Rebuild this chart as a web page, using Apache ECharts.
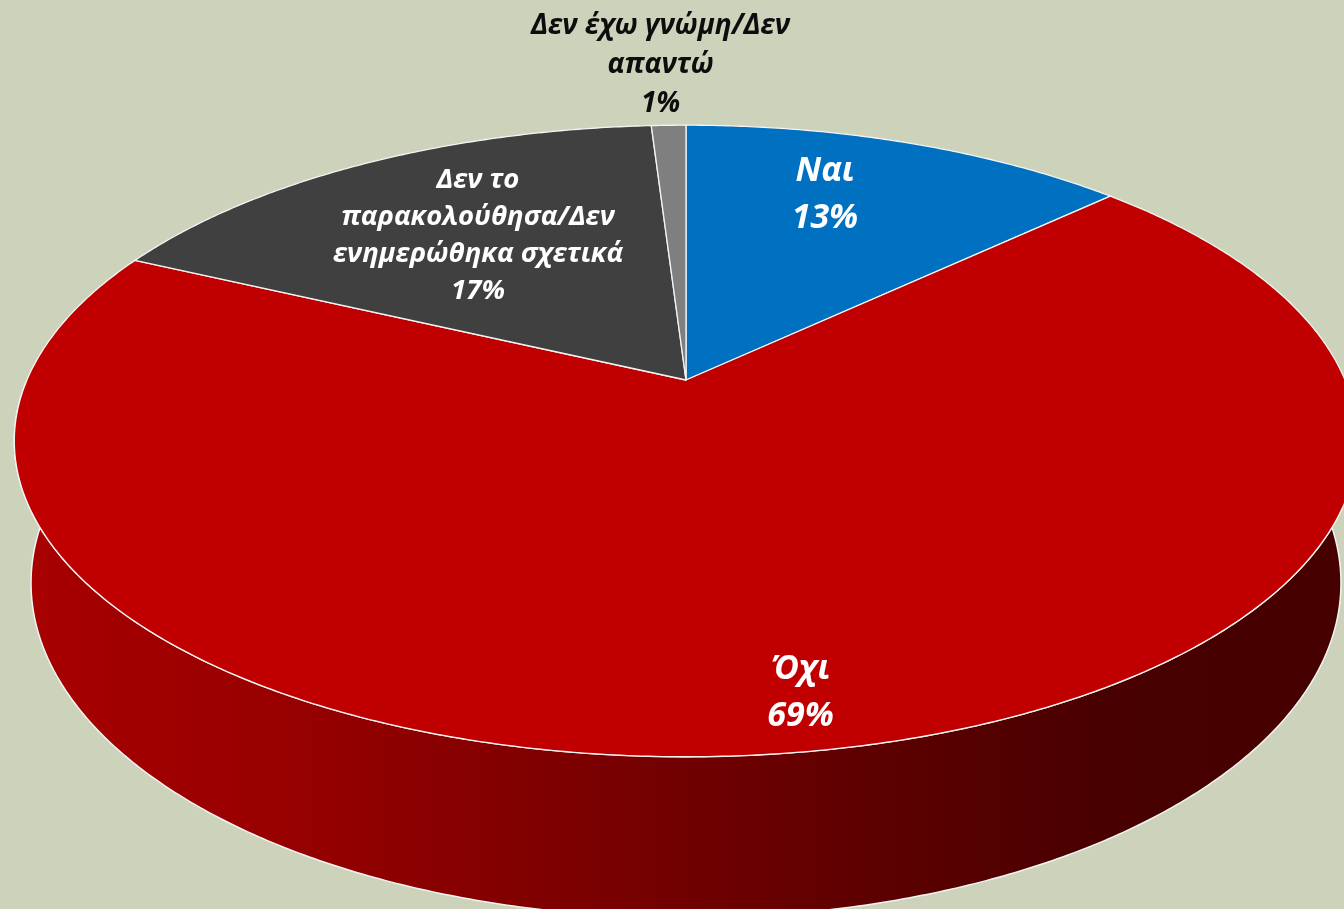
<!DOCTYPE html>
<html>
<head>
<meta charset="utf-8">
<script src="https://cdn.jsdelivr.net/npm/echarts@6/dist/echarts.min.js"></script>
<style>
html, body { margin: 0; padding: 0; background: #cdd3bb; }
#main { width: 1344px; height: 909px; }
</style>
</head>
<body>
<div id="main"></div>
<script>
var categories = ['Ναι', 'Όχι', 'Δεν το\nπαρακολούθησα/Δεν\nενημερώθηκα σχετικά', 'Δεν έχω γνώμη/Δεν\nαπαντώ'];
var values = [13, 69, 17, 1];
var colors = ['#0070c0', '#c00000', '#404040', '#7f7f7f'];

// 3d pie look: perspective camera, numbers in pie radii
var cx = 686, cy = 380;
var camDist = 4.596;
var focal = 3029;
var tilt = 27.47 * Math.PI / 180;
var thickness = 0.245;
var sinT = Math.sin(tilt), cosT = Math.cos(tilt);

var total = values.reduce(function (a, b) { return a + b; }, 0);
var startAngles = [];
var acc = 0;
values.forEach(function (v) {
    startAngles.push(acc / total * Math.PI * 2);
    acc += v;
});

function project(r, theta, z) {
    var X = r * Math.sin(theta), Y = r * Math.cos(theta);
    var w = camDist + Y * cosT - z * sinT;
    return [cx + focal * X / w, cy - focal * (Y * sinT + z * cosT) / w];
}

function arcPoints(a0, a1, z) {
    var pts = [];
    var n = Math.max(2, Math.ceil((a1 - a0) * 120));
    for (var i = 0; i <= n; i++) {
        pts.push(project(1, a0 + (a1 - a0) * i / n, z));
    }
    return pts;
}

// side wall colour goes dark to the right
var wallFill = new echarts.graphic.LinearGradient(14, 0, 1358, 0, [
    { offset: 0, color: '#a80000' },
    { offset: 0.2, color: '#980000' },
    { offset: 0.45, color: '#780000' },
    { offset: 0.65, color: '#5c0000' },
    { offset: 0.82, color: '#480000' },
    { offset: 1, color: '#460000' }
], true);

// where the inner labels sit: [radius fraction, turn in degrees]
var labelSpot = [[0.73, -4.3], [0.87, -0.6], [0.626, 0.5], [1, 0]];

function renderWall(params, api) {
    var i = params.dataIndex;
    var a0 = Math.max(startAngles[i], Math.PI / 2);
    var a1 = Math.min(startAngles[i] + values[i] / total * Math.PI * 2, Math.PI * 1.5);
    if (a1 <= a0) return { type: 'group', children: [] };
    var top = arcPoints(a0, a1, 0);
    var bottom = arcPoints(a0, a1, -thickness).reverse();
    return {
        type: 'polygon',
        shape: { points: top.concat(bottom) },
        style: { fill: wallFill, stroke: '#f4f4f4', lineWidth: 1.5, lineJoin: 'round' }
    };
}

function renderTop(params, api) {
    var i = params.dataIndex;
    var a0 = startAngles[i];
    var a1 = a0 + values[i] / total * Math.PI * 2;
    var mid = (a0 + a1) / 2;
    var pts = [project(0, 0, 0)].concat(arcPoints(a0, a1, 0));
    var pct = Math.round(values[i] / total * 100) + '%';
    var small = values[i] / total < 0.05;
    var big = categories[i].indexOf('\n') < 0;
    var lp, text;
    if (small) {
        lp = project(1, mid, 0);
        text = {
            type: 'text', x: lp[0] - 8, y: lp[1] - 2,
            style: {
                text: categories[i] + '\n' + pct, fill: '#0d0d0d',
                fontFamily: 'Open Sans', fontWeight: 'bold', fontStyle: 'italic',
                fontSize: 28, lineHeight: 39, align: 'center', verticalAlign: 'bottom'
            }
        };
    } else {
        lp = project(labelSpot[i][0], mid + labelSpot[i][1] * Math.PI / 180, 0);
        text = {
            type: 'text', x: lp[0], y: lp[1],
            style: {
                text: categories[i] + '\n' + pct, fill: '#ffffff',
                fontFamily: 'Open Sans', fontWeight: 'bold', fontStyle: 'italic',
                fontSize: big ? 34 : 27.5, lineHeight: big ? 47 : 37,
                align: 'center', verticalAlign: 'middle'
            }
        };
    }
    return {
        type: 'group',
        children: [
            {
                type: 'polygon',
                shape: { points: pts },
                style: { fill: colors[i], stroke: '#f4f4f4', lineWidth: 1.3, lineJoin: 'round' }
            },
            text
        ]
    };
}

var chart = echarts.init(document.getElementById('main'));
chart.setOption({
    backgroundColor: '#cdd3bb',
    animation: false,
    series: [
        {
            type: 'custom',
            name: 'wall',
            coordinateSystem: 'none',
            renderItem: renderWall,
            data: values,
            z: 1
        },
        {
            type: 'custom',
            name: 'top',
            coordinateSystem: 'none',
            renderItem: renderTop,
            data: values,
            z: 2
        }
    ]
});
window.addEventListener('resize', function () {
    chart.resize();
});
</script>
</body>
</html>
